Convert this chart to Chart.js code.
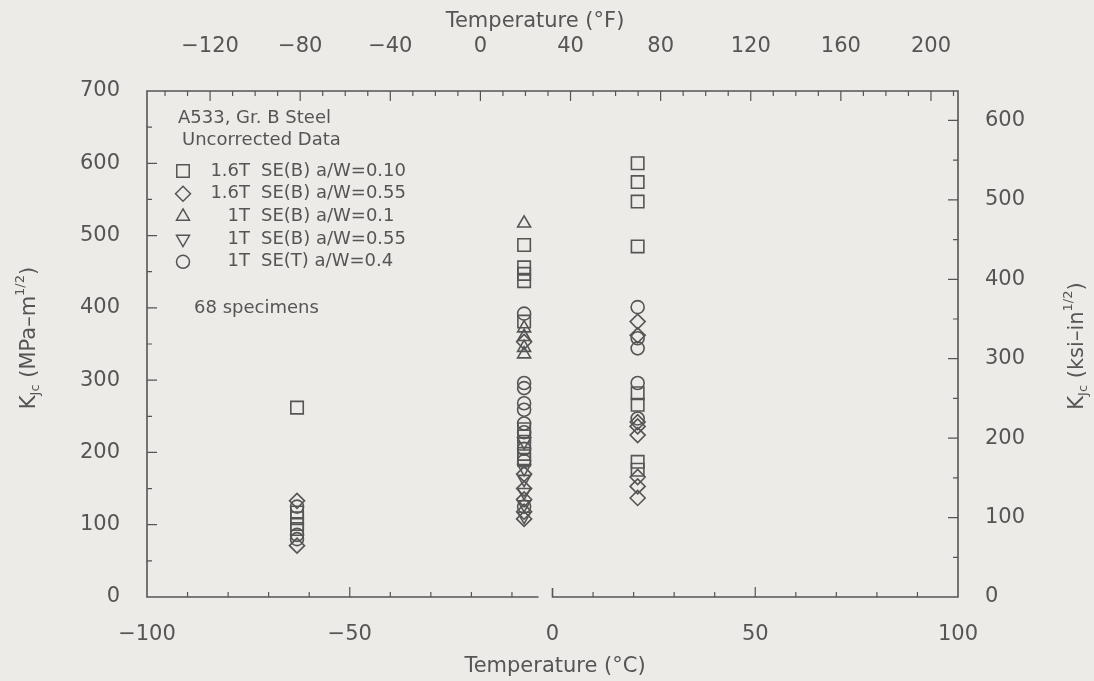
<!DOCTYPE html>
<html>
<head>
<title>KJc vs Temperature</title>
<script src="https://cdn.jsdelivr.net/npm/chart.js@4.4.0/dist/chart.umd.min.js"></script>
<style>
body { margin: 0; background: #ecebe8; }
</style>
</head>
<body>
<canvas id="myChart" width="1094" height="681"></canvas>

<script>
// tick labels
var cTicks = [-100, -50, 0, 50, 100];
var fTicks = [-120, -80, -40, 0, 40, 80, 120, 160, 200];
var mpaTicks = [0, 100, 200, 300, 400, 500, 600, 700];
var ksiTicks = [0, 100, 200, 300, 400, 500, 600];

// series names (legend)
var seriesNames = ['1.6T SE(B) a/W=0.10', '1.6T SE(B) a/W=0.55', '1T SE(B) a/W=0.1', '1T SE(B) a/W=0.55', '1T SE(T) a/W=0.4'];

// K_Jc, MPa-m^1/2; T in deg C
var sq10_T = [-63, -63, -63, -63, -63, -7, -7, -7, -7, -7, -7, -7, -7, -7, -7, 21, 21, 21, 21, 21, 21, 21, 21];
var sq10_K = [262, 117, 109, 101, 94, 487, 456, 447, 437, 381, 232, 222, 212, 198, 190, 600, 574, 547, 485, 282, 266, 187, 176];

var di55_T = [-63, -63, -7, -7, -7, -7, -7, -7, 21, 21, 21, 21, 21, 21, 21, 21];
var di55_K = [133, 71, 353, 170, 150, 135, 118, 108, 381, 362, 242, 236, 224, 166, 153, 137];

var tr10_T = [-7, -7, -7, -7, -7];
var tr10_K = [517, 372, 360, 345, 336];

var tv55_T = [-7, -7, -7, -7, -7, -7];
var tv55_K = [215, 178, 163, 145, 128, 112];

var ci40_T = [-63, -63, -63, -7, -7, -7, -7, -7, -7, -7, -7, -7, -7, 21, 21, 21, 21, 21];
var ci40_K = [125, 86, 80, 392, 296, 289, 268, 259, 240, 228, 205, 188, 125, 401, 358, 344, 296, 247];

var ink = '#555555';
var fontFam = '"DejaVu Sans", sans-serif';

function pts(T, K) {
    return T.map(function (t, i) { return { x: t, y: K[i] }; });
}
function minus(v) { return String(v).replace('-', '\u2212'); }
function fixTicks(list) {
    return function (s) { s.ticks = list.map(function (v) { return { value: v }; }); };
}

var framePlugin = {
    id: 'frame',
    beforeDraw: function (chart) {
        var c = chart.ctx;
        c.save();
        c.fillStyle = '#ecebe8';
        c.fillRect(0, 0, chart.width, chart.height);
        c.restore();
    },
    afterDraw: function (chart) {
        var c = chart.ctx, ca = chart.chartArea, s = chart.scales;
        c.save();
        c.strokeStyle = ink;
        c.lineWidth = 1.6;
        var x0 = s.x.getPixelForValue(0);
        c.beginPath();
        c.moveTo(x0 - 14, ca.bottom); c.lineTo(ca.left, ca.bottom); c.lineTo(ca.left, ca.top);
        c.lineTo(ca.right, ca.top); c.lineTo(ca.right, ca.bottom); c.lineTo(x0, ca.bottom); c.lineTo(x0, ca.bottom - 9);
        c.stroke();

        c.lineWidth = 1.2;
        c.beginPath();
        var v, p, len;
        // bottom, deg C
        for (v = -90; v <= 90; v += 10) {
            if (v === 0) continue;
            p = s.x.getPixelForValue(v); len = (v % 50 === 0) ? 10 : 5;
            c.moveTo(p, ca.bottom); c.lineTo(p, ca.bottom - len);
        }
        // top, deg F
        for (v = -140; v <= 210; v += 10) {
            p = s.x2.getPixelForValue(v); len = (v % 40 === 0) ? 10 : 5;
            c.moveTo(p, ca.top); c.lineTo(p, ca.top + len);
        }
        // left, MPa
        for (v = 50; v < 700; v += 50) {
            p = s.y.getPixelForValue(v); len = (v % 100 === 0) ? 10 : 5;
            c.moveTo(ca.left, p); c.lineTo(ca.left + len, p);
        }
        // right, ksi
        for (v = 50; v <= 600; v += 50) {
            p = s.y2.getPixelForValue(v); len = (v % 100 === 0) ? 10 : 5;
            c.moveTo(ca.right, p); c.lineTo(ca.right - len, p);
        }
        c.stroke();

        // axis titles
        c.fillStyle = ink;
        c.textBaseline = 'middle';
        c.textAlign = 'center';
        c.font = '21px ' + fontFam;
        c.fillText('Temperature (\u00b0C)', 555, 667);
        c.fillText('Temperature (\u00b0F)', 535, 22);
        drawK(c, 30, 338, ' (MPa\u2013m');
        drawK(c, 1078, 346, ' (ksi\u2013in');

        // legend block
        c.textAlign = 'left';
        c.font = '18px ' + fontFam;
        c.fillText('A533, Gr. B Steel', 178, 118);
        c.fillText('Uncorrected Data', 182, 140);
        chart.data.datasets.forEach(function (ds, i) {
            var y = 171 + i * 22.7;
            c.strokeStyle = ink;
            c.fillStyle = 'rgba(0,0,0,0)';
            c.lineWidth = 1.5;
            Chart.helpers.drawPoint(c, {
                pointStyle: ds.pointStyle, radius: ds.pointRadius,
                rotation: ds.pointRotation || 0, borderWidth: 1.5
            }, 183, y);
            c.fillStyle = ink;
            var parts = ds.label.split(' ');
            c.textAlign = 'right';
            c.fillText(parts[0], 250, y);
            c.textAlign = 'left';
            c.fillText(parts.slice(1).join(' '), 261, y);
        });
        c.fillText('68 specimens', 194, 308);
        c.restore();
    }
};

function drawK(c, cx, cy, unit) {
    var big = '21px ' + fontFam, small = '13px ' + fontFam;
    var segs = [['K', big, 0], ['Jc', small, 6], [unit, big, 0], ['1/2', small, -9], [')', big, 0]];
    var w = 0;
    segs.forEach(function (s) { c.font = s[1]; w += c.measureText(s[0]).width; });
    c.save();
    c.translate(cx, cy);
    c.rotate(-Math.PI / 2);
    c.textAlign = 'left';
    var x = -w / 2;
    segs.forEach(function (s) {
        c.font = s[1];
        c.fillText(s[0], x, s[2]);
        x += c.measureText(s[0]).width;
    });
    c.restore();
}

var tickFont = { family: fontFam, size: 21 };

var ctx = document.getElementById('myChart').getContext('2d');
var myChart = new Chart(ctx, {
    type: 'scatter',
    data: {
        datasets: [{
            label: seriesNames[0], data: pts(sq10_T, sq10_K),
            pointStyle: 'rect', pointRadius: 8.8
        }, {
            label: seriesNames[1], data: pts(di55_T, di55_K),
            pointStyle: 'rectRot', pointRadius: 7.5
        }, {
            label: seriesNames[2], data: pts(tr10_T, tr10_K),
            pointStyle: 'triangle', pointRadius: 7.5
        }, {
            label: seriesNames[3], data: pts(tv55_T, tv55_K),
            pointStyle: 'triangle', pointRadius: 7.5, pointRotation: 180
        }, {
            label: seriesNames[4], data: pts(ci40_T, ci40_K),
            pointStyle: 'circle', pointRadius: 6.5
        }].map(function (d) {
            d.borderColor = ink;
            d.backgroundColor = 'rgba(0,0,0,0)';
            d.pointBorderWidth = 1.6;
            d.showLine = false;
            return d;
        })
    },
    options: {
        responsive: false,
        animation: false,
        layout: { padding: 0 },
        plugins: { legend: { display: false }, tooltip: { enabled: false } },
        scales: {
            x: {
                type: 'linear', position: 'bottom', min: -100, max: 100,
                afterBuildTicks: fixTicks(cTicks),
                afterFit: function (s) { s.height = 84; },
                grid: { display: false, drawTicks: false }, border: { display: false },
                ticks: { padding: 25, color: ink, font: tickFont, maxRotation: 0, autoSkip: false, callback: minus }
            },
            x2: {
                type: 'linear', position: 'top', min: -148, max: 212,
                afterBuildTicks: fixTicks(fTicks),
                afterFit: function (s) { s.height = 91; },
                grid: { display: false, drawTicks: false }, border: { display: false },
                ticks: { padding: 32, color: ink, font: tickFont, maxRotation: 0, autoSkip: false, callback: minus }
            },
            y: {
                type: 'linear', position: 'left', min: 0, max: 700,
                afterBuildTicks: fixTicks(mpaTicks),
                afterFit: function (s) { s.width = 147; },
                grid: { display: false, drawTicks: false }, border: { display: false },
                ticks: { padding: 27, color: ink, font: tickFont, autoSkip: false }
            },
            y2: {
                type: 'linear', position: 'right', min: 0, max: 700 / 1.0988,
                afterBuildTicks: fixTicks(ksiTicks),
                afterFit: function (s) { s.width = 136; },
                grid: { display: false, drawTicks: false }, border: { display: false },
                ticks: { padding: 27, color: ink, font: tickFont, autoSkip: false }
            }
        }
    },
    plugins: [framePlugin]
});
</script>
</body>
</html>
